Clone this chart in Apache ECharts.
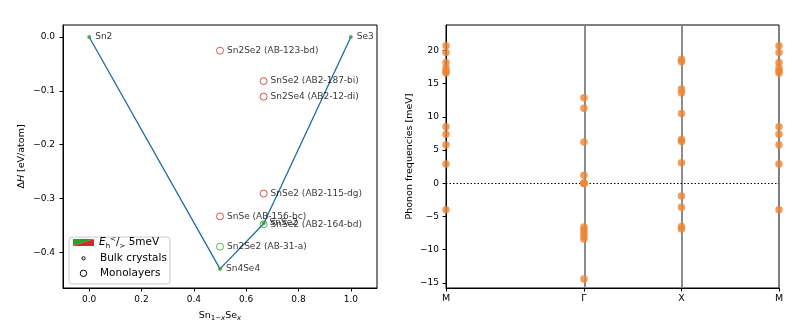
<!DOCTYPE html>
<html>
<head>
<meta charset="utf-8">
<script src="https://cdn.jsdelivr.net/npm/echarts@6/dist/echarts.min.js"></script>
<style>html,body{margin:0;padding:0;background:#fff}#c{width:800px;height:331px}</style>
</head>
<body>
<div id="c"></div>
<script>
// ---- Left panel: convex hull ----
const hullX = [0, 0.5, 0.6667, 1];
const hullY = [0, -0.431, -0.347, 0];
const bulkNames = ['Sn2', 'Sn4Se4', 'SnSe2', 'Se3'];
const bulkX = [0, 0.5, 0.6667, 1];
const bulkY = [0, -0.431, -0.346, 0];
const monoNames = ['Sn2Se2 (AB-123-bd)', 'SnSe2 (AB2-187-bi)', 'Sn2Se4 (AB2-12-di)', 'SnSe2 (AB2-115-dg)', 'SnSe (AB-156-bc)', 'SnSe2 (AB2-164-bd)', 'Sn2Se2 (AB-31-a)'];
const monoX = [0.5, 0.6667, 0.6667, 0.6667, 0.5, 0.6667, 0.5];
const monoY = [-0.0255, -0.082, -0.111, -0.291, -0.3335, -0.348, -0.3896];
const monoStable = [false, false, false, false, false, true, true];
const leftXTicks = [0, 0.2, 0.4, 0.6, 0.8, 1.0];
const leftYTicks = [0, -0.1, -0.2, -0.3, -0.4];

// ---- Right panel: phonons ----
const qLabels = ['M', 'Γ', 'X', 'M'];
const qPos = [0, 0.7071, 1.2071, 1.7071];
const freqM = [20.7, 19.7, 18.2, 17.4, 16.9, 16.6, 8.5, 7.4, 5.8, 2.9, -4.0];
const freqG = [12.9, 11.3, 6.2, 1.2, 0.05, 0, -0.05, -6.6, -7.0, -7.5, -8.0, -8.4, -14.4];
const freqX = [18.7, 18.3, 14.2, 13.6, 10.5, 6.6, 6.3, 3.1, -1.9, -3.6, -6.5, -6.9];
const freqM2 = [20.7, 19.7, 18.2, 17.4, 16.9, 16.6, 8.5, 7.4, 5.8, 2.9, -4.0];
const rightYTicks = [-15, -10, -5, 0, 5, 10, 15, 20];

const GREEN = '#2ca02c', RED = '#d62728', BLUE = '#1f6aa8', ORANGE = '#ee8433';
const FONT = 'DejaVu Sans';
const fmtNum = (v, d) => { const s = Math.abs(v).toFixed(d); return (v < -1e-9 ? '\u2212' : '') + s; };

const bulkData = bulkNames.map((n, i) => ({ name: n, value: [bulkX[i], bulkY[i]] }));
const monoData = monoNames.map((n, i) => ({
  name: n, value: [monoX[i], monoY[i]],
  itemStyle: { color: 'rgba(255,255,255,0)', borderColor: monoStable[i] ? GREEN : RED, borderWidth: 1 }
}));
const phononData = [];
[freqM, freqG, freqX, freqM2].forEach((arr, k) => arr.forEach(v => phononData.push([qPos[k], v])));

const axisCommon = {
  axisLine: { show: true, onZero: false, lineStyle: { color: '#000', width: 1 } },
  axisTick: { show: true, inside: false, length: 3.5, lineStyle: { color: '#000' } },
  splitLine: { show: false },
  axisLabel: { color: '#000', fontFamily: FONT, fontSize: 9 }
};

const option = {
  animation: false,
  backgroundColor: '#fff',
  grid: [
    { left: 63, top: 25, width: 314, height: 263, show: true, borderColor: '#000', borderWidth: 1, backgroundColor: 'transparent' },
    { left: 446, top: 25, width: 333, height: 263, show: true, borderColor: '#000', borderWidth: 1, backgroundColor: 'transparent' }
  ],
  xAxis: [
    Object.assign({}, axisCommon, {
      type: 'value', gridIndex: 0, min: -0.1, max: 1.1,
      axisTick: Object.assign({}, axisCommon.axisTick, { customValues: leftXTicks }),
      axisLabel: Object.assign({}, axisCommon.axisLabel, { customValues: leftXTicks, margin: 7, formatter: v => fmtNum(v, 1) }),
      name: 'Sn{s|1\u2212}{si|x}Se{si|x}', nameLocation: 'middle', nameGap: 21,
      nameTextStyle: { color: '#000', fontFamily: FONT, fontSize: 9.5,
        rich: { s: { fontSize: 7, verticalAlign: 'bottom', fontFamily: FONT, padding: [6, 0, 0, 0] }, si: { fontSize: 7, fontStyle: 'italic', fontFamily: FONT, padding: [6, 0, 0, 0] } } }
    }),
    Object.assign({}, axisCommon, {
      type: 'value', gridIndex: 1, min: 0, max: qPos[3],
      axisTick: Object.assign({}, axisCommon.axisTick, { customValues: qPos }),
      axisLabel: Object.assign({}, axisCommon.axisLabel, { customValues: qPos, margin: 6, fontSize: 9.5,
        formatter: v => { const i = qPos.findIndex(p => Math.abs(p - v) < 1e-6); return i >= 0 ? qLabels[i] : ''; } })
    })
  ],
  yAxis: [
    Object.assign({}, axisCommon, {
      type: 'value', gridIndex: 0, min: -0.4665, max: 0.0222,
      axisTick: Object.assign({}, axisCommon.axisTick, { customValues: leftYTicks }),
      axisLabel: Object.assign({}, axisCommon.axisLabel, { customValues: leftYTicks, margin: 8, formatter: v => fmtNum(v, 1) }),
      name: '\u0394{i|H} [eV/atom]', nameLocation: 'middle', nameGap: 36, nameRotate: 90,
      nameTextStyle: { color: '#000', fontFamily: FONT, fontSize: 9.5, rich: { i: { fontStyle: 'italic', fontFamily: FONT, fontSize: 9.5 } } }
    }),
    Object.assign({}, axisCommon, {
      type: 'value', gridIndex: 1, min: -15.77, max: 23.84,
      axisTick: Object.assign({}, axisCommon.axisTick, { customValues: rightYTicks }),
      axisLabel: Object.assign({}, axisCommon.axisLabel, { customValues: rightYTicks, margin: 7, formatter: v => fmtNum(v, 0) }),
      name: 'Phonon frequencies [meV]', nameLocation: 'middle', nameGap: 31, nameRotate: 90,
      nameTextStyle: { color: '#000', fontFamily: FONT, fontSize: 9.5 }
    })
  ],
  series: [
    {
      type: 'line', xAxisIndex: 0, yAxisIndex: 0, data: hullX.map((x, i) => [x, hullY[i]]),
      showSymbol: false, symbol: 'none', lineStyle: { color: BLUE, width: 1.3 }, z: 2, silent: true
    },
    {
      type: 'scatter', xAxisIndex: 0, yAxisIndex: 0, data: monoData, symbol: 'circle', symbolSize: 7, z: 3,
      label: { show: true, position: 'right', distance: 3, formatter: p => p.name, color: '#000', fontFamily: FONT, fontSize: 9 }
    },
    {
      type: 'scatter', xAxisIndex: 0, yAxisIndex: 0, data: bulkData, symbol: 'circle', symbolSize: 4, z: 4,
      itemStyle: { color: GREEN },
      label: { show: true, position: 'right', distance: 4, formatter: p => p.name, color: '#000', fontFamily: FONT, fontSize: 9 }
    },
    {
      type: 'scatter', xAxisIndex: 1, yAxisIndex: 1, data: phononData, symbol: 'circle', symbolSize: 7.5, z: 5,
      itemStyle: { color: ORANGE },
      markLine: {
        silent: true, symbol: 'none', label: { show: false },
        data: [
          { xAxis: qPos[1], lineStyle: { color: '#808080', width: 1.8, type: 'solid' } },
          { xAxis: qPos[2], lineStyle: { color: '#808080', width: 1.8, type: 'solid' } },
          { yAxis: 0, lineStyle: { color: '#000', width: 1.2, type: [1.5, 2] } }
        ]
      }
    }
  ],
  graphic: [
    { type: 'rect', shape: { x: 69, y: 237, width: 101, height: 47, r: 3 }, style: { fill: 'rgba(255,255,255,0.85)', stroke: '#cccccc', lineWidth: 1 }, z: 100 },
    { type: 'polygon', shape: { points: [[73, 239], [94, 239], [73, 246]] }, style: { fill: GREEN }, z: 101 },
    { type: 'polygon', shape: { points: [[94, 239], [94, 246], [73, 246]] }, style: { fill: RED }, z: 101 },
    { type: 'text', x: 99, y: 242.5, z: 101, style: {
      text: '{e|E}{b|h}{t|<}{n|/}{b|>}{n| 5meV}', fill: '#000', verticalAlign: 'middle', fontFamily: FONT, fontSize: 10.5,
      rich: {
        e: { fontStyle: 'italic', fontSize: 10.5, fontFamily: FONT, lineHeight: 14, verticalAlign: 'middle' },
        b: { fontSize: 7, fontFamily: FONT, lineHeight: 14, verticalAlign: 'bottom' },
        t: { fontSize: 7, fontFamily: FONT, lineHeight: 14, verticalAlign: 'top' },
        n: { fontSize: 10.5, fontFamily: FONT, lineHeight: 14, verticalAlign: 'middle' }
      } } },
    { type: 'circle', shape: { cx: 83.5, cy: 258.3, r: 1.6 }, style: { fill: '#fff', stroke: '#000', lineWidth: 1 }, z: 101 },
    { type: 'text', x: 100, y: 258.3, z: 101, style: { text: 'Bulk crystals', fill: '#000', verticalAlign: 'middle', fontFamily: FONT, fontSize: 10.5 } },
    { type: 'circle', shape: { cx: 83.5, cy: 273.3, r: 3.2 }, style: { fill: '#fff', stroke: '#000', lineWidth: 1 }, z: 101 },
    { type: 'text', x: 100, y: 273.3, z: 101, style: { text: 'Monolayers', fill: '#000', verticalAlign: 'middle', fontFamily: FONT, fontSize: 10.5 } }
  ]
};
const chart = echarts.init(document.getElementById('c'), null, { renderer: 'canvas' });
chart.setOption(option);
</script>
</body>
</html>
